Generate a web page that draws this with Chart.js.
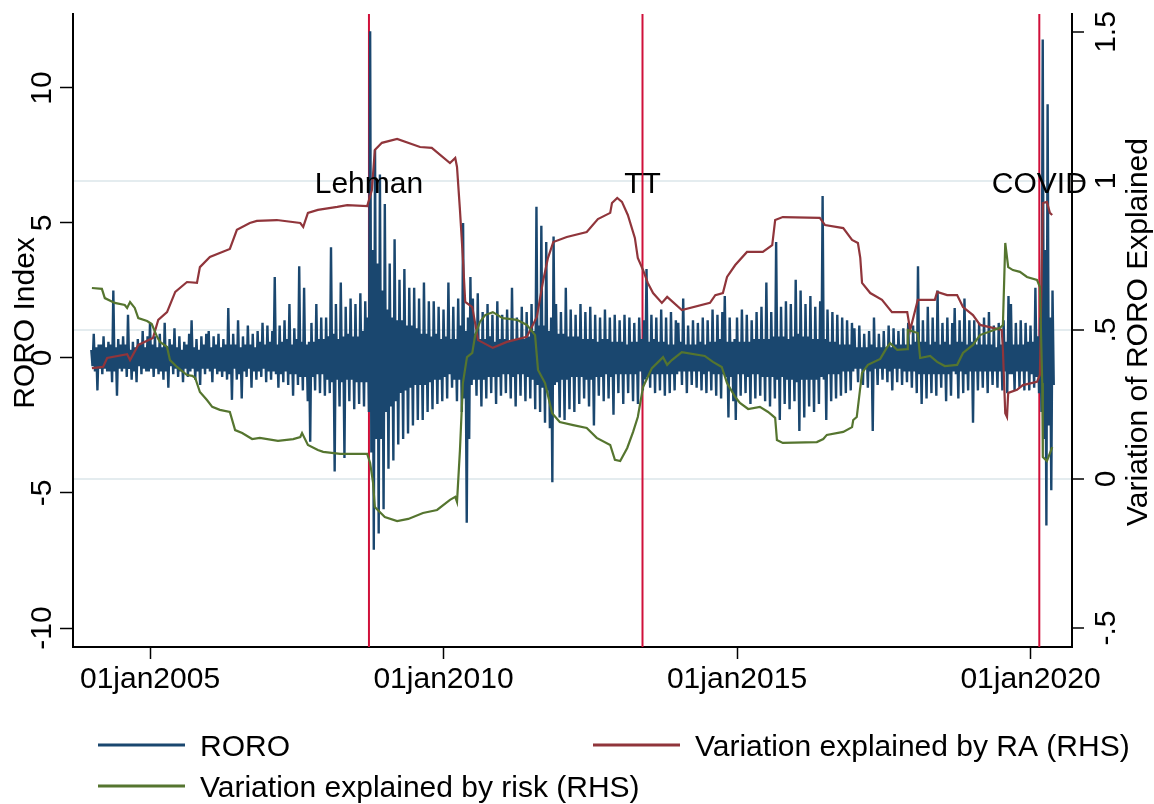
<!DOCTYPE html>
<html>
<head>
<meta charset="utf-8">
<script src="https://cdn.jsdelivr.net/npm/chart.js@4.4.1/dist/chart.umd.min.js"></script>
<style>
  html, body { margin: 0; padding: 0; background: #fff; }
  #wrap { width: 1154px; height: 804px; }
</style>
</head>
<body>
<div id="wrap"><canvas id="roroChart" width="1154" height="804"></canvas></div>
<script>
// RORO index, 48 observations per year starting 1 Jan (high / low pairs)
const roro2004 = [0.3, -0.3, 0.9, -0.5, 0.4, -1.2, 0.5, -0.4, 0.5, -0.6, 0.8, -0.4, 0.4, -0.5, 0.6, -0.5, 0.5, -0.9, 2.5, -0.5, 0.4, -1.4, 0.7, -0.4, 0.5, -0.5, 0.8, -0.4, 0.5, -0.7, 1.6, -0.4, 0.3, -0.8, 0.6, -0.5, 0.4, -0.9, 0.7, -0.3, 0.5, -0.6, 1.0, -0.4, 0.4, -0.5, 0.8, -0.5];
const roro2005 = [1.3, -0.4, 0.5, -0.7, 0.8, -0.4, 0.4, -0.6, 0.9, -0.5, 0.4, -0.8, 1.3, -0.5, 0.4, -1.1, 0.7, -0.3, 0.5, -0.6, 1.1, -0.4, 0.4, -0.7, 0.8, -0.5, 0.3, -0.9, 0.6, -0.4, 0.5, -0.7, 0.9, -0.5, 1.4, -0.4, 0.4, -0.8, 0.7, -0.5, 0.3, -1.0, 0.8, -0.4, 0.5, -0.6, 0.9, -0.4];
const roro2006 = [1.0, -0.5, 0.4, -0.9, 0.8, -0.4, 0.5, -0.6, 0.9, -0.5, 0.4, -0.7, 0.7, -0.5, 0.5, -0.8, 1.85, -0.6, 0.5, -1.55, 0.9, -0.4, 0.5, -0.8, 1.4, -0.6, 0.4, -1.5, 0.8, -0.5, 0.5, -0.7, 1.2, -0.4, 0.5, -1.1, 0.9, -0.5, 0.4, -0.8, 1.0, -0.5, 0.6, -0.7, 1.3, -0.4, 0.5, -0.9];
const roro2007 = [1.2, -0.5, 0.6, -0.8, 1.0, -0.5, 3.0, -0.6, 0.5, -1.1, 1.2, -0.6, 0.6, -0.9, 1.4, -0.5, 0.7, -1.0, 2.0, -0.6, 0.5, -1.4, 1.1, -0.6, 0.7, -1.0, 3.4, -0.7, 0.6, -1.2, 2.6, -0.7, 0.5, -1.6, 0.6, -3.1, 1.3, -0.7, 0.6, -1.2, 2.0, -0.6, 0.7, -1.3, 1.5, -0.6, 0.7, -1.4];
const roro2008 = [1.5, -0.8, 0.8, -1.3, 4.1, -0.9, 0.9, -4.2, 2.0, -0.8, 0.7, -1.8, 2.8, -0.9, 0.8, -3.7, 1.9, -0.8, 0.9, -1.6, 2.2, -0.8, 0.8, -1.9, 2.0, -0.9, 0.8, -1.7, 2.4, -0.9, 1.0, -1.8, 2.1, -0.9, 1.5, -2.0, 12.1, -3.5, 4.0, -7.1, 7.7, -3.0, 3.5, -6.5, 6.8, -3.0, 2.5, -5.6];
const roro2009 = [5.7, -2.0, 1.8, -4.1, 3.5, -1.8, 1.5, -3.8, 4.4, -1.6, 1.4, -3.2, 2.9, -1.3, 1.4, -3.0, 3.3, -1.2, 1.2, -2.8, 2.6, -1.1, 1.2, -2.5, 2.6, -1.0, 1.1, -2.3, 2.2, -1.0, 0.9, -2.3, 2.8, -1.0, 0.9, -2.0, 2.1, -0.9, 0.8, -1.9, 2.1, -0.8, 0.9, -1.7, 1.9, -0.8, 0.7, -1.6];
const roro2010 = [1.8, -0.7, 0.8, -1.5, 2.8, -0.6, 0.7, -1.1, 1.9, -0.8, 0.7, -1.6, 2.2, -0.8, 1.2, -2.0, 5.0, -1.5, 1.0, -6.1, 1.5, -3.0, 3.0, -1.0, 2.2, -0.8, 0.9, -1.4, 2.4, -0.8, 0.7, -1.8, 1.7, -0.8, 0.7, -1.5, 2.0, -0.7, 0.8, -1.3, 1.6, -0.7, 0.6, -1.7, 2.1, -0.7, 0.7, -1.4];
const roro2011 = [1.6, -0.6, 0.7, -1.3, 1.8, -0.6, 0.6, -1.5, 2.6, -0.7, 0.7, -1.8, 1.5, -0.6, 0.7, -1.4, 1.9, -0.6, 0.7, -1.6, 1.7, -0.7, 0.8, -1.5, 2.0, -0.8, 1.0, -1.9, 5.6, -1.0, 1.2, -2.0, 4.9, -1.1, 1.2, -2.4, 4.3, -1.2, 1.0, -2.6, 1.5, -4.6, 4.5, -1.0, 2.0, -0.9, 0.9, -2.2];
const roro2012 = [1.7, -0.8, 0.9, -2.3, 2.6, -0.8, 0.8, -1.9, 1.8, -0.7, 0.8, -2.0, 1.6, -0.7, 0.8, -1.7, 2.0, -0.7, 0.7, -1.5, 1.7, -0.8, 0.7, -1.8, 1.9, -0.8, 0.7, -2.5, 1.6, -0.7, 0.6, -1.4, 1.5, -0.7, 0.7, -1.6, 1.8, -0.6, 0.7, -1.5, 1.5, -0.7, 0.6, -2.1, 1.6, -0.6, 0.6, -1.3];
const roro2013 = [1.4, -0.6, 0.6, -1.7, 1.6, -0.6, 0.5, -1.3, 1.5, -0.6, 0.6, -1.6, 1.3, -0.6, 0.6, -1.7, 1.5, -0.5, 0.7, -1.2, 1.4, -0.8, 3.3, -0.7, 0.6, -1.1, 1.6, -0.6, 0.7, -1.3, 1.5, -0.6, 0.6, -1.2, 1.8, -0.6, 0.6, -1.4, 1.5, -0.6, 0.5, -1.3, 1.7, -0.6, 0.5, -1.2, 1.4, -0.6];
const roro2014 = [1.3, -0.5, 0.6, -1.0, 2.2, -0.5, 0.5, -1.3, 1.2, -0.5, 0.5, -1.0, 1.4, -0.5, 0.5, -1.1, 1.3, -0.5, 0.6, -1.2, 1.5, -0.6, 0.5, -1.3, 1.4, -0.5, 0.6, -1.2, 1.8, -0.6, 0.6, -1.4, 1.6, -0.6, 0.7, -1.5, 1.7, -0.6, 2.3, -0.7, 0.6, -2.2, 1.5, -0.7, 0.6, -1.6, 0.7, -2.3];
const roro2015 = [1.5, -0.6, 0.6, -1.4, 1.8, -0.6, 0.6, -1.3, 1.6, -0.7, 0.6, -1.7, 1.4, -0.6, 0.7, -1.5, 1.7, -0.6, 0.7, -1.4, 1.9, -0.7, 0.7, -1.6, 2.8, -0.7, 0.7, -1.8, 1.7, -0.7, 0.8, -1.5, 4.3, -0.8, 0.8, -2.3, 1.9, -0.7, 0.8, -1.7, 2.1, -0.8, 0.7, -1.9, 2.0, -0.8, 0.8, -1.6];
const roro2016 = [2.9, -0.9, 0.9, -2.7, 2.5, -0.8, 0.8, -2.2, 2.0, -0.8, 0.8, -1.8, 2.3, -0.8, 0.7, -2.0, 1.9, -0.8, 0.7, -1.7, 2.1, -0.7, 6.0, -0.8, 0.7, -2.3, 1.8, -0.6, 0.6, -1.6, 1.7, -0.6, 0.6, -1.5, 1.6, -0.6, 0.5, -1.4, 1.5, -0.5, 0.5, -1.3, 1.4, -0.5, 0.5, -1.2, 1.3, -0.5];
const roro2017 = [1.1, -0.4, 0.4, -0.9, 1.2, -0.4, 0.4, -1.0, 0.9, -0.4, 0.4, -1.1, 1.0, -0.5, 0.5, -2.7, 1.5, -0.4, 0.4, -1.0, 0.9, -0.4, 0.4, -0.8, 1.0, -0.4, 0.4, -0.9, 1.2, -0.5, 0.4, -1.2, 1.1, -0.4, 0.5, -0.9, 1.0, -0.4, 0.5, -1.0, 1.1, -0.5, 0.5, -0.9, 1.3, -0.5, 0.5, -1.1];
const roro2018 = [1.2, -0.5, 0.6, -1.3, 3.4, -0.6, 0.6, -1.7, 1.4, -0.6, 0.6, -1.5, 1.9, -0.6, 0.5, -1.3, 1.5, -0.6, 0.6, -1.4, 2.5, -0.6, 0.5, -1.1, 1.3, -0.6, 0.6, -1.6, 1.5, -0.6, 0.5, -1.4, 1.3, -0.5, 1.85, -0.6, 0.6, -1.5, 1.4, -0.5, 0.6, -1.3, 2.2, -0.6, 0.5, -1.2, 1.4, -0.5];
const roro2019 = [0.6, -2.4, 1.4, -0.5, 0.5, -1.2, 1.3, -0.5, 0.5, -1.1, 1.5, -0.5, 0.5, -1.3, 1.7, -0.5, 0.5, -1.0, 1.2, -0.5, 0.4, -1.1, 1.3, -0.5, 0.5, -1.2, 1.4, -0.5, 0.6, -1.3, 2.3, -0.6, 2.0, -0.6, 0.5, -1.2, 1.3, -0.5, 0.5, -1.1, 1.4, -0.5, 0.5, -1.2, 1.3, -0.5, 0.6, -1.2];
const roro2020 = [1.2, -0.6, 0.6, -1.1, 2.6, -0.7, 0.8, -1.3, 1.5, -2.0, 11.8, -3.0, 4.0, -6.2, 9.4, -2.5, 1.5, -4.9, 2.5, -1.0];

const roroYears = [2004, 2005, 2006, 2007, 2008, 2009, 2010, 2011, 2012, 2013, 2014, 2015, 2016, 2017, 2018, 2019, 2020];
const roroBlocks = [roro2004, roro2005, roro2006, roro2007, roro2008, roro2009, roro2010, roro2011,
  roro2012, roro2013, roro2014, roro2015, roro2016, roro2017, roro2018, roro2019, roro2020];
const OBS_PER_YEAR = 48;

// Share of RORO variation explained by risk aversion (RHS)
const raDates = [2004.01, 2004.20, 2004.27, 2004.61, 2004.66, 2004.80, 2005.05, 2005.14, 2005.29, 2005.43,
  2005.63, 2005.80, 2005.85, 2006.02, 2006.36, 2006.48, 2006.70, 2006.82, 2007.16, 2007.56,
  2007.61, 2007.69, 2007.86, 2008.19, 2008.36, 2008.70, 2008.78, 2008.83, 2008.95, 2009.21,
  2009.60, 2009.80, 2010.11, 2010.20, 2010.23, 2010.28, 2010.33, 2010.37, 2010.49, 2010.59,
  2010.84, 2011.08, 2011.42, 2011.59, 2011.70, 2011.78, 2011.87, 2012.10, 2012.44, 2012.63,
  2012.84, 2012.87, 2012.96, 2013.04, 2013.14, 2013.26, 2013.31, 2013.40, 2013.48, 2013.57,
  2013.72, 2013.81, 2014.06, 2014.54, 2014.63, 2014.76, 2014.83, 2014.97, 2015.17, 2015.44,
  2015.60, 2015.65, 2015.78, 2016.41, 2016.50, 2016.81, 2016.96, 2017.06, 2017.10, 2017.13,
  2017.27, 2017.47, 2017.64, 2017.90, 2017.95, 2018.08, 2018.37, 2018.41, 2018.58, 2018.75,
  2018.85, 2019.02, 2019.14, 2019.36, 2019.51, 2019.53, 2019.57, 2019.60, 2019.62, 2019.77,
  2019.87, 2020.11, 2020.16, 2020.21, 2020.28, 2020.33, 2020.37];
const raValues = [0.372, 0.376, 0.406, 0.419, 0.399, 0.450, 0.473, 0.534, 0.560, 0.628,
  0.661, 0.658, 0.711, 0.745, 0.772, 0.836, 0.859, 0.866, 0.869, 0.859,
  0.846, 0.893, 0.903, 0.913, 0.919, 0.916, 0.970, 1.104, 1.128, 1.141,
  1.114, 1.111, 1.060, 1.077, 1.047, 0.903, 0.742, 0.594, 0.577, 0.466,
  0.440, 0.460, 0.477, 0.544, 0.668, 0.742, 0.795, 0.812, 0.829, 0.872,
  0.893, 0.926, 0.943, 0.930, 0.886, 0.809, 0.742, 0.701, 0.658, 0.624,
  0.591, 0.611, 0.567, 0.591, 0.617, 0.624, 0.678, 0.718, 0.762, 0.762,
  0.785, 0.869, 0.879, 0.876, 0.852, 0.842, 0.802, 0.792, 0.742, 0.658,
  0.624, 0.601, 0.560, 0.560, 0.500, 0.601, 0.601, 0.628, 0.617, 0.617,
  0.577, 0.550, 0.517, 0.507, 0.500, 0.433, 0.221, 0.208, 0.289, 0.299,
  0.315, 0.326, 0.349, 0.926, 0.930, 0.893, 0.886];

// Share of RORO variation explained by risk (RHS)
const riskDates = [2004.01, 2004.18, 2004.23, 2004.40, 2004.57, 2004.61, 2004.66, 2004.74, 2004.80, 2004.95,
  2005.03, 2005.12, 2005.17, 2005.29, 2005.34, 2005.46, 2005.63, 2005.72, 2005.77, 2005.85,
  2005.97, 2006.06, 2006.19, 2006.36, 2006.45, 2006.57, 2006.74, 2006.87, 2007.18, 2007.44,
  2007.56, 2007.59, 2007.69, 2007.86, 2007.95, 2008.24, 2008.70, 2008.75, 2008.80, 2008.83,
  2008.88, 2009.00, 2009.21, 2009.40, 2009.65, 2009.89, 2010.11, 2010.20, 2010.23, 2010.28,
  2010.33, 2010.40, 2010.49, 2010.54, 2010.62, 2010.71, 2010.84, 2011.01, 2011.25, 2011.42,
  2011.56, 2011.61, 2011.73, 2011.85, 2011.98, 2012.21, 2012.44, 2012.61, 2012.84, 2012.92,
  2013.01, 2013.13, 2013.23, 2013.31, 2013.40, 2013.55, 2013.69, 2013.74, 2013.81, 2013.89,
  2014.06, 2014.45, 2014.59, 2014.74, 2014.83, 2014.97, 2015.05, 2015.19, 2015.39, 2015.53,
  2015.65, 2015.68, 2015.78, 2016.36, 2016.47, 2016.53, 2016.81, 2016.96, 2016.98, 2017.04,
  2017.13, 2017.23, 2017.44, 2017.56, 2017.61, 2017.73, 2017.90, 2017.91, 2018.08, 2018.12,
  2018.29, 2018.41, 2018.54, 2018.75, 2018.85, 2019.02, 2019.14, 2019.48, 2019.53, 2019.57,
  2019.62, 2019.70, 2019.82, 2019.94, 2020.11, 2020.16, 2020.20, 2020.21, 2020.28, 2020.32,
  2020.37];
const riskValues = [0.641, 0.638, 0.607, 0.591, 0.584, 0.574, 0.594, 0.574, 0.540, 0.530,
  0.520, 0.477, 0.460, 0.443, 0.399, 0.376, 0.349, 0.346, 0.339, 0.292,
  0.265, 0.242, 0.232, 0.225, 0.164, 0.154, 0.134, 0.138, 0.128, 0.134,
  0.141, 0.154, 0.114, 0.097, 0.091, 0.084, 0.084, 0.054, -0.013, -0.094,
  -0.104, -0.128, -0.141, -0.134, -0.114, -0.104, -0.070, -0.060, -0.077, 0.097,
  0.322, 0.409, 0.423, 0.483, 0.527, 0.550, 0.560, 0.540, 0.534, 0.517,
  0.483, 0.366, 0.322, 0.221, 0.191, 0.181, 0.171, 0.138, 0.114, 0.064,
  0.060, 0.104, 0.158, 0.208, 0.309, 0.372, 0.399, 0.409, 0.383, 0.399,
  0.426, 0.413, 0.393, 0.376, 0.322, 0.275, 0.255, 0.235, 0.242, 0.225,
  0.205, 0.131, 0.121, 0.124, 0.134, 0.148, 0.158, 0.174, 0.198, 0.208,
  0.356, 0.383, 0.403, 0.443, 0.456, 0.433, 0.436, 0.500, 0.490, 0.406,
  0.413, 0.393, 0.379, 0.383, 0.423, 0.450, 0.483, 0.507, 0.517, 0.792,
  0.711, 0.701, 0.695, 0.678, 0.668, 0.644, 0.322, 0.074, 0.060, 0.081,
  0.107];

// Events marked with vertical lines
const eventNames = ["Lehman", "TT", "COVID"];
const eventDates = [2008.73, 2013.39, 2020.15];

// Axis ticks
const xTicks = [2005, 2010, 2015, 2020];
const yTicks = [-10, -5, 0, 5, 10];
const y2Ticks = [-0.5, 0, 0.5, 1, 1.5];
const y2Labels = ["-.5", "0", ".5", "1", "1.5"];

const NAVY = "#1a476f";
const MAROON = "#90353b";
const FOREST = "#55752f";
const EVENT_RED = "#d0103a";
const FONT = '30px "Liberation Sans", Arial, sans-serif';

const roroPoints = [];
roroBlocks.forEach((vals, k) => {
  vals.forEach((v, i) => roroPoints.push({ x: roroYears[k] + i / OBS_PER_YEAR, y: v }));
});
const raPoints = raDates.map((d, i) => ({ x: d, y: raValues[i] }));
const riskPoints = riskDates.map((d, i) => ({ x: d, y: riskValues[i] }));

// text rotated to read bottom-to-top, x is the baseline
function upText(ctx, text, x, y) {
  ctx.save();
  ctx.translate(x, y);
  ctx.rotate(-Math.PI / 2);
  ctx.textAlign = "center";
  ctx.textBaseline = "alphabetic";
  ctx.fillText(text, 0, 0);
  ctx.restore();
}

const decorations = {
  id: "decorations",
  beforeDatasetsDraw(chart) {
    const { ctx, chartArea, scales } = chart;
    ctx.save();
    ctx.strokeStyle = EVENT_RED;
    ctx.lineWidth = 2;
    eventDates.forEach(d => {
      const px = scales.x.getPixelForValue(d);
      ctx.beginPath();
      ctx.moveTo(px, chartArea.top);
      ctx.lineTo(px, chartArea.bottom);
      ctx.stroke();
    });
    ctx.restore();
  },
  afterDatasetsDraw(chart) {
    const { ctx, scales } = chart;
    ctx.save();
    ctx.font = FONT;
    ctx.fillStyle = "#000";
    ctx.textAlign = "center";
    ctx.textBaseline = "alphabetic";
    const ty = scales.y2.getPixelForValue(1) + 12;
    eventNames.forEach((name, i) => {
      ctx.fillText(name, scales.x.getPixelForValue(eventDates[i]), ty);
    });
    ctx.restore();
  },
  afterDraw(chart) {
    const { ctx, scales, chartArea } = chart;
    ctx.save();
    ctx.font = FONT;
    ctx.fillStyle = "#000";

    // x tick labels
    ctx.textAlign = "center";
    ctx.textBaseline = "alphabetic";
    xTicks.forEach(v => {
      ctx.fillText("01jan" + v, scales.x.getPixelForValue(v), chartArea.bottom + 41);
    });

    // y tick labels, both sides
    yTicks.forEach(v => upText(ctx, String(v), 51, scales.y.getPixelForValue(v)));
    y2Ticks.forEach((v, i) => upText(ctx, y2Labels[i], 1115, scales.y2.getPixelForValue(v)));

    // axis titles
    upText(ctx, "RORO Index", 34, 323);
    upText(ctx, "Variation of RORO Explained", 1147, 332);

    // legend
    const items = [
      { ds: 0, x: 98, y: 745 },
      { ds: 1, x: 593, y: 745 },
      { ds: 2, x: 98, y: 786 }
    ];
    ctx.textAlign = "left";
    items.forEach(it => {
      const ds = chart.data.datasets[it.ds];
      ctx.strokeStyle = ds.borderColor;
      ctx.lineWidth = 3;
      ctx.beginPath();
      ctx.moveTo(it.x, it.y);
      ctx.lineTo(it.x + 87, it.y);
      ctx.stroke();
      ctx.fillText(ds.label, it.x + 102, it.y + 11);
    });
    ctx.restore();
  }
};

new Chart(document.getElementById("roroChart").getContext("2d"), {
  type: "line",
  data: {
    datasets: [
      {
        label: "RORO",
        data: roroPoints,
        yAxisID: "y",
        borderColor: NAVY,
        borderWidth: 2.4,
        borderJoinStyle: "bevel",
        pointRadius: 0,
        tension: 0,
        order: 3
      },
      {
        label: "Variation explained by RA (RHS)",
        data: raPoints,
        yAxisID: "y2",
        borderColor: MAROON,
        borderWidth: 2.2,
        pointRadius: 0,
        tension: 0,
        order: 2
      },
      {
        label: "Variation explained by risk (RHS)",
        data: riskPoints,
        yAxisID: "y2",
        borderColor: FOREST,
        borderWidth: 2.2,
        pointRadius: 0,
        tension: 0,
        order: 1
      }
    ]
  },
  options: {
    responsive: false,
    animation: false,
    events: [],
    layout: { padding: { top: 14, left: 0, right: 0, bottom: 0 } },
    plugins: {
      legend: { display: false },
      tooltip: { enabled: false }
    },
    scales: {
      x: {
        type: "linear",
        min: 2003.688,
        max: 2020.707,
        afterBuildTicks: s => { s.ticks = xTicks.map(v => ({ value: v })); },
        afterFit: s => { s.height = 157; },
        ticks: { display: false },
        grid: { drawOnChartArea: false, drawTicks: true, tickLength: 12, tickColor: "#000", tickWidth: 1.5 },
        border: { display: true, color: "#000", width: 2 }
      },
      y: {
        type: "linear",
        position: "left",
        min: -10.7037,
        max: 12.7407,
        afterBuildTicks: s => { s.ticks = yTicks.map(v => ({ value: v })); },
        afterFit: s => { s.width = 73; },
        ticks: { display: false },
        grid: { drawOnChartArea: false, drawTicks: true, tickLength: 13, tickColor: "#000", tickWidth: 1.5 },
        border: { display: true, color: "#000", width: 2 }
      },
      y2: {
        type: "linear",
        position: "right",
        min: -0.5638,
        max: 1.5604,
        afterBuildTicks: s => { s.ticks = y2Ticks.map(v => ({ value: v })); },
        afterFit: s => { s.width = 82; },
        ticks: { display: false },
        grid: {
          drawOnChartArea: true,
          drawTicks: true,
          tickLength: 12,
          tickColor: "#000",
          tickWidth: 1.5,
          lineWidth: 2,
          color: c => (c.tick && c.tick.value >= 0 && c.tick.value <= 1) ? "#e4ecef" : "rgba(0,0,0,0)"
        },
        border: { display: true, color: "#000", width: 2 }
      }
    }
  },
  plugins: [decorations]
});
</script>
</body>
</html>
